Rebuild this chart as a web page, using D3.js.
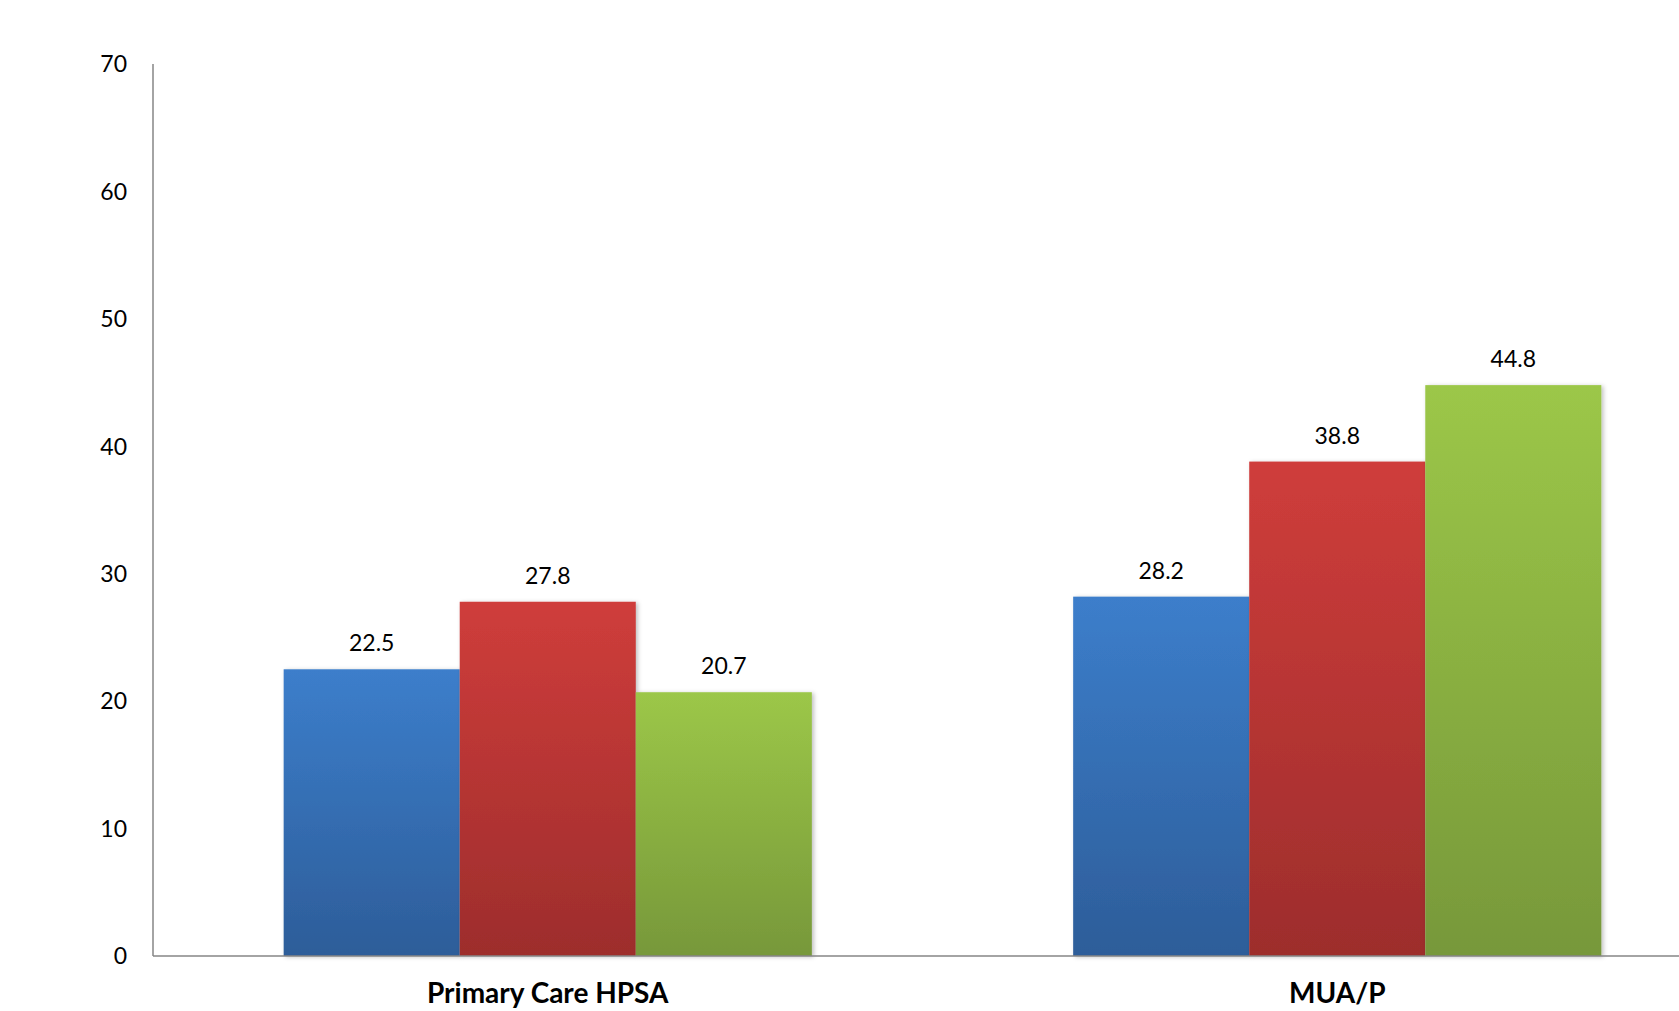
<!DOCTYPE html>
<html>
<head>
<meta charset="utf-8">
<script src="https://cdn.jsdelivr.net/npm/d3@7"></script>
<style>
  html, body { margin: 0; padding: 0; background: #fff; overflow: hidden; }
  text { font-family: Lato, "Open Sans", sans-serif; }
</style>
</head>
<body>
<div id="zone"></div>
<script>
// données du graphique
var categories = ["Primary Care HPSA", "MUA/P"];
var series = ["s1", "s2", "s3"];
var valeursS1 = [22.5, 28.2];
var valeursS2 = [27.8, 38.8];
var valeursS3 = [20.7, 44.8];
var yTicks = [0, 10, 20, 30, 40, 50, 60, 70];

(function() {
  "use strict";

  var width = 1679;
  var height = 1011;

  // couleurs haut / bas du dégradé de chaque série
  var couleurs = {
    s1: ["#3c7ecb", "#2d5d99"],
    s2: ["#cf3d3b", "#9d2d2c"],
    s3: ["#9cc748", "#77983a"]
  };

  var valeurs = { s1: valeursS1, s2: valeursS2, s3: valeursS3 };

  var svg = d3.select("#zone")
    .append("svg")
    .attr("width", width)
    .attr("height", height);

  var defs = svg.append("defs");

  series.forEach(function(s) {
    var grad = defs.append("linearGradient")
      .attr("id", "grad-" + s)
      .attr("x1", 0).attr("y1", 0).attr("x2", 0).attr("y2", 1);
    grad.append("stop").attr("offset", "0%").attr("stop-color", couleurs[s][0]);
    grad.append("stop").attr("offset", "100%").attr("stop-color", couleurs[s][1]);
  });

  // ombre légère à droite des barres
  var filtre = defs.append("filter")
    .attr("id", "ombre")
    .attr("x", "-5%").attr("y", "-5%").attr("width", "115%").attr("height", "115%");
  filtre.append("feDropShadow")
    .attr("dx", 2).attr("dy", 1).attr("stdDeviation", 2)
    .attr("flood-color", "#000").attr("flood-opacity", 0.25);

  // échelles (le graphique d'origine est coupé à droite)
  var x0 = d3.scaleBand()
    .domain(categories)
    .range([153, 1732])
    .paddingInner(0.331)
    .paddingOuter(0.1655);

  var x1 = d3.scaleBand()
    .domain(series)
    .range([0, x0.bandwidth()]);

  var y = d3.scaleLinear()
    .domain([0, 70])
    .range([956, 64]);

  // axe vertical
  svg.append("line")
    .attr("x1", 153).attr("x2", 153)
    .attr("y1", y(70)).attr("y2", y(0))
    .attr("stroke", "#868686").attr("stroke-width", 1.5);

  svg.append("g")
    .selectAll("text")
    .data(yTicks)
    .join("text")
    .attr("x", 127)
    .attr("y", function(d) { return y(d); })
    .attr("dy", "0.36em")
    .attr("text-anchor", "end")
    .attr("font-size", 23)
    .attr("fill", "#000")
    .text(function(d) { return d; });

  // barres
  var groupes = svg.append("g")
    .selectAll("g")
    .data(categories)
    .join("g")
    .attr("transform", function(c) { return "translate(" + x0(c) + ",0)"; });

  groupes.each(function(c, i) {
    var g = d3.select(this);
    series.forEach(function(s) {
      var v = valeurs[s][i];
      g.append("rect")
        .attr("x", x1(s))
        .attr("y", y(v))
        .attr("width", x1.bandwidth())
        .attr("height", y(0) - y(v))
        .attr("fill", "url(#grad-" + s + ")")
        .attr("filter", "url(#ombre)");
    });
    series.forEach(function(s) {
      var v = valeurs[s][i];
      g.append("text")
        .attr("x", x1(s) + x1.bandwidth() / 2)
        .attr("y", y(v) - 18)
        .attr("text-anchor", "middle")
        .attr("font-size", 23)
        .attr("fill", "#000")
        .text(v.toFixed(1));
    });
  });

  // axe horizontal
  svg.append("line")
    .attr("x1", 153).attr("x2", width)
    .attr("y1", y(0)).attr("y2", y(0))
    .attr("stroke", "#868686").attr("stroke-width", 1.5);

  svg.append("g")
    .selectAll("text")
    .data(categories)
    .join("text")
    .attr("x", function(c) { return x0(c) + x0.bandwidth() / 2; })
    .attr("y", 1003)
    .attr("text-anchor", "middle")
    .attr("font-size", 28)
    .attr("font-weight", "bold")
    .attr("fill", "#000")
    .text(function(c) { return c; });

})();
</script>
</body>
</html>
